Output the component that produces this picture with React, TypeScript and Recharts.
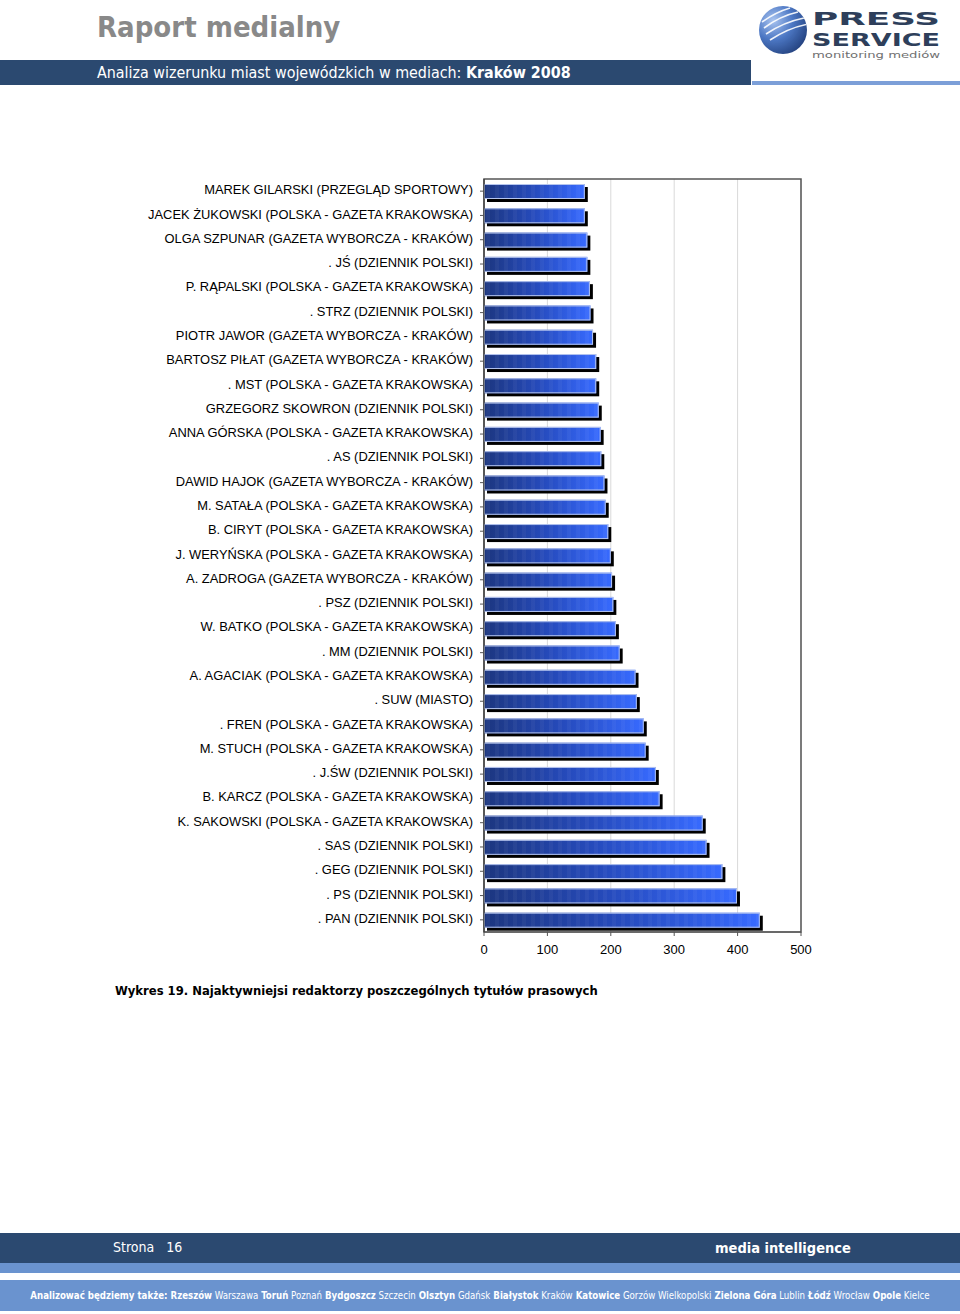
import React from "react";
import { BarChart, Bar, XAxis, YAxis, CartesianGrid, ReferenceArea } from "recharts";

const names: string[] = [
  "MAREK GILARSKI (PRZEGLĄD SPORTOWY)",
  "JACEK ŻUKOWSKI (POLSKA - GAZETA KRAKOWSKA)",
  "OLGA SZPUNAR (GAZETA WYBORCZA - KRAKÓW)",
  ". JŚ (DZIENNIK POLSKI)",
  "P. RĄPALSKI (POLSKA - GAZETA KRAKOWSKA)",
  ". STRZ (DZIENNIK POLSKI)",
  "PIOTR JAWOR (GAZETA WYBORCZA - KRAKÓW)",
  "BARTOSZ PIŁAT (GAZETA WYBORCZA - KRAKÓW)",
  ". MST (POLSKA - GAZETA KRAKOWSKA)",
  "GRZEGORZ SKOWRON (DZIENNIK POLSKI)",
  "ANNA GÓRSKA (POLSKA - GAZETA KRAKOWSKA)",
  ". AS (DZIENNIK POLSKI)",
  "DAWID HAJOK (GAZETA WYBORCZA - KRAKÓW)",
  "M. SATAŁA (POLSKA - GAZETA KRAKOWSKA)",
  "B. CIRYT (POLSKA - GAZETA KRAKOWSKA)",
  "J. WERYŃSKA (POLSKA - GAZETA KRAKOWSKA)",
  "A. ZADROGA (GAZETA WYBORCZA - KRAKÓW)",
  ". PSZ (DZIENNIK POLSKI)",
  "W. BATKO (POLSKA - GAZETA KRAKOWSKA)",
  ". MM (DZIENNIK POLSKI)",
  "A. AGACIAK (POLSKA - GAZETA KRAKOWSKA)",
  ". SUW (MIASTO)",
  ". FREN (POLSKA - GAZETA KRAKOWSKA)",
  "M. STUCH (POLSKA - GAZETA KRAKOWSKA)",
  ". J.ŚW (DZIENNIK POLSKI)",
  "B. KARCZ (POLSKA - GAZETA KRAKOWSKA)",
  "K. SAKOWSKI (POLSKA - GAZETA KRAKOWSKA)",
  ". SAS (DZIENNIK POLSKI)",
  ". GEG (DZIENNIK POLSKI)",
  ". PS (DZIENNIK POLSKI)",
  ". PAN (DZIENNIK POLSKI)",
];

const values: number[] = [
  159, 159, 163, 163, 167, 168, 172, 177, 177, 181, 184, 185, 190, 192, 196, 200,
  202, 204, 208, 214, 239, 241, 252, 255, 271, 277, 345, 351, 376, 399, 435,
];

const xTicks: number[] = [0, 100, 200, 300, 400, 500];

const cities: { t: string; b: boolean }[] = [
  { t: "Rzeszów", b: true },
  { t: "Warszawa", b: false },
  { t: "Toruń", b: true },
  { t: "Poznań", b: false },
  { t: "Bydgoszcz", b: true },
  { t: "Szczecin", b: false },
  { t: "Olsztyn", b: true },
  { t: "Gdańsk", b: false },
  { t: "Białystok", b: true },
  { t: "Kraków", b: false },
  { t: "Katowice", b: true },
  { t: "Gorzów Wielkopolski", b: false },
  { t: "Zielona Góra", b: true },
  { t: "Lublin", b: false },
  { t: "Łódź", b: true },
  { t: "Wrocław", b: false },
  { t: "Opole", b: true },
  { t: "Kielce", b: false },
];

const data = names.map((n, i) => ({ name: n, value: values[i] }));

const BarShape = (props: any) => {
  const { x, y, width, height } = props;
  if (!width || width <= 0) return null;
  return (
    <g>
      <rect x={x + 3} y={y + 3} width={width} height={height} fill="#000" />
      <rect x={x} y={y} width={width} height={height} fill="url(#barGrad)" />
      <rect x={x} y={y} width={width} height={height} fill="url(#stripes)" />
      <rect x={x + 0.5} y={y + 0.5} width={width - 1} height={height - 1} fill="none" stroke="#b4c4ee" strokeWidth={1} />
    </g>
  );
};

const Logo = () => (
  <svg width={210} height={62} style={{ position: "absolute", left: 750, top: 0 }}>
    <defs>
      <radialGradient id="logoGrad" cx="0.3" cy="0.3" r="0.8">
        <stop offset="0" stopColor="#a9c4f0" />
        <stop offset="0.5" stopColor="#4d78c4" />
        <stop offset="1" stopColor="#23417e" />
      </radialGradient>
      <clipPath id="logoClip">
        <circle cx={33} cy={30} r={24} />
      </clipPath>
    </defs>
    <circle cx={33} cy={30} r={24} fill="url(#logoGrad)" />
    <g clipPath="url(#logoClip)" stroke="#ffffff" strokeWidth={1.6} fill="none" opacity={0.9}>
      <path d="M12 22 Q 26 12 40 8" />
      <path d="M14 28 Q 30 16 48 12" />
      <path d="M16 34 Q 34 22 54 18" />
      <path d="M20 40 Q 38 28 58 24" />
    </g>
    <text x={62} y={25} fontFamily="DejaVu Sans" fontWeight={900} fontSize={18} fill="#2e3f5b" textLength={128} lengthAdjust="spacingAndGlyphs">PRESS</text>
    <text x={62} y={46} fontFamily="DejaVu Sans" fontWeight={900} fontSize={17.5} fill="#2e3f5b" textLength={128} lengthAdjust="spacingAndGlyphs">SERVICE</text>
    <text x={62} y={58} fontFamily="DejaVu Sans" fontSize={8} fill="#707070" textLength={128} lengthAdjust="spacingAndGlyphs">monitoring mediów</text>
  </svg>
);

export default function App() {
  return (
    <div style={{ position: "absolute", left: 0, top: 0, width: 960, height: 1314, background: "#fff", overflow: "hidden" }}>
      {/* header */}
      <div style={{ position: "absolute", left: 97, top: 8, fontFamily: "'DejaVu Sans Condensed', 'DejaVu Sans'", fontWeight: 700, fontSize: 29, color: "#898989", lineHeight: "38px" }}>
        Raport medialny
      </div>
      <Logo />
      <div style={{ position: "absolute", left: 0, top: 60, width: 751, height: 25, background: "#2b4970" }} />
      <div style={{ position: "absolute", left: 752, top: 81, width: 208, height: 4, background: "#7c9fd8" }} />
      <div style={{ position: "absolute", left: 97, top: 60, height: 25, lineHeight: "25px", fontFamily: "'DejaVu Sans Condensed', 'DejaVu Sans'", fontSize: 15.9, color: "#fff", whiteSpace: "nowrap" }}>
        Analiza wizerunku miast wojewódzkich w mediach: <b>Kraków 2008</b>
      </div>

      {/* chart */}
      <div style={{ position: "absolute", left: 0, top: 0 }}>
        <BarChart
          width={960}
          height={1000}
          data={data}
          layout="vertical"
          margin={{ top: 179, right: 159, bottom: 38, left: 0 }}
          barSize={15}
        >
          <defs>
            <linearGradient id="barGrad" x1="0" y1="0" x2="1" y2="0">
              <stop offset="0" stopColor="#1c367f" />
              <stop offset="0.5" stopColor="#264bbd" />
              <stop offset="1" stopColor="#376aff" />
            </linearGradient>
            <pattern id="stripes" patternUnits="userSpaceOnUse" width={9} height={10}>
              <rect x={0} y={0} width={4} height={10} fill="#ffffff" opacity={0.04} />
            </pattern>
          </defs>
          <CartesianGrid horizontal={false} vertical stroke="#d9d9d9" strokeWidth={1} />
          <XAxis
            type="number"
            domain={[0, 500]}
            ticks={xTicks}
            height={30}
            tickSize={4}
            tickMargin={9}
            axisLine={{ stroke: "#555" }}
            tickLine={{ stroke: "#555" }}
            tick={{ fontFamily: "'Liberation Sans', Arial", fontSize: 13, fill: "#000" }}
            interval={0}
          />
          <YAxis
            type="category"
            dataKey="name"
            width={484}
            tickSize={4}
            tickMargin={7}
            interval={0}
            axisLine={{ stroke: "#333" }}
            tickLine={{ stroke: "#555" }}
            tick={{ fontFamily: "'Liberation Sans', Arial", fontSize: 12.9, fill: "#000", dy: -1.5 }}
          />
          <ReferenceArea x1={0} x2={500} fill="none" stroke="#555" strokeWidth={1.5} ifOverflow="visible" />
          <Bar dataKey="value" isAnimationActive={false} shape={BarShape} />
        </BarChart>
      </div>

      {/* caption */}
      <div style={{ position: "absolute", left: 115, top: 982, fontFamily: "'DejaVu Sans Condensed', 'DejaVu Sans'", fontWeight: 700, fontSize: 12.9, color: "#000", whiteSpace: "nowrap", lineHeight: "18px" }}>
        Wykres 19. Najaktywniejsi redaktorzy poszczególnych tytułów prasowych
      </div>

      {/* footer */}
      <div style={{ position: "absolute", left: 0, top: 1233, width: 960, height: 30, background: "#2b4970" }} />
      <div style={{ position: "absolute", left: 113, top: 1233, height: 30, lineHeight: "28px", fontFamily: "'DejaVu Sans Condensed', 'DejaVu Sans'", fontSize: 14, color: "#fff", whiteSpace: "pre" }}>
        {"Strona   16"}
      </div>
      <div style={{ position: "absolute", left: 715, top: 1233, height: 30, lineHeight: "30px", fontFamily: "'DejaVu Sans Condensed', 'DejaVu Sans'", fontWeight: 700, fontSize: 14.5, color: "#fff", whiteSpace: "nowrap" }}>
        media intelligence
      </div>
      <div style={{ position: "absolute", left: 0, top: 1263, width: 960, height: 10, background: "#6a93cf" }} />
      <div style={{ position: "absolute", left: 0, top: 1280, width: 960, height: 31, background: "#6a93cf" }} />
      <div style={{ position: "absolute", left: 0, top: 1280, width: 960, height: 31, lineHeight: "31px", textAlign: "center", fontFamily: "'DejaVu Sans Condensed', 'DejaVu Sans'", fontSize: 9.6, color: "#fff", whiteSpace: "nowrap" }}>
        <b>Analizować będziemy także:</b>
        {cities.map((c, i) => (
          <span key={i} style={{ fontWeight: c.b ? 700 : 400 }}>{" " + c.t}</span>
        ))}
      </div>
    </div>
  );
}
